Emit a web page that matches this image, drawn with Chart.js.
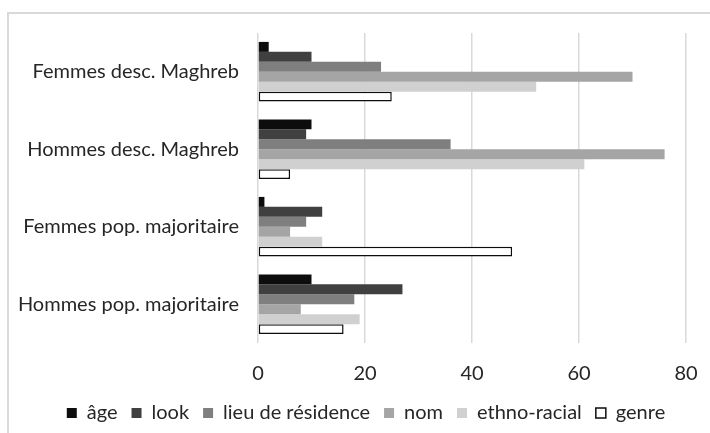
<!DOCTYPE html>
<html>
<head>
<meta charset="utf-8">
<script src="https://cdn.jsdelivr.net/npm/chart.js@4"></script>
<style>
  body { margin: 0; background: #fff; }
  #wrap { position: relative; width: 710px; height: 433px; overflow: hidden; }
  #frame { position: absolute; left: 7px; top: 12px; width: 800px; height: 500px;
           border-top: 2px solid #d9d9d9; border-left: 2px solid #d9d9d9; }
  canvas { position: absolute; left: 0; top: 0; }
</style>
</head>
<body>
<div id="wrap">
  <div id="frame"></div>
  <canvas id="chart" width="710" height="433"></canvas>
</div>
<script>
const categories = ["Femmes desc. Maghreb", "Hommes desc. Maghreb", "Femmes pop. majoritaire", "Hommes pop. majoritaire"];
const seriesNames = ["âge", "look", "lieu de résidence", "nom", "ethno-racial", "genre"];
const age = [2, 10, 1.2, 10];
const look = [10, 9, 12, 27];
const lieu = [23, 36, 9, 18];
const nom = [70, 76, 6, 8];
const ethno = [52, 61, 12, 19];
const genre = [25, 6, 47.5, 16];
const xTicks = [0, 20, 40, 60, 80];

const fills = ["#0d0d0d", "#404040", "#7f7f7f", "#a5a5a5", "#d0d0d0", "#ffffff"];
const values = [age, look, lieu, nom, ethno, genre];

Chart.defaults.font.family = "Lato, 'DejaVu Sans', sans-serif";
Chart.defaults.color = "#262626";

const datasets = values.map((v, i) => ({
    label: seriesNames[i],
    data: v,
    backgroundColor: fills[i],
    borderColor: i === 5 ? "#0d0d0d" : fills[i],
    borderWidth: i === 5 ? 1.5 : 0,
    borderSkipped: false,
    barPercentage: 1,
    categoryPercentage: 0.77
}));

// legend sits a bit right of centre in the reference
const legendShift = {
    id: "legendShift",
    afterLayout(chart) {
        chart.legend.left = 22;
        chart.legend.right = 710;
    }
};

new Chart(document.getElementById("chart"), {
    type: "bar",
    data: { labels: categories, datasets },
    plugins: [legendShift],
    options: {
        indexAxis: "y",
        responsive: false,
        animation: false,
        layout: { padding: { top: 33, right: 24, bottom: 0, left: 0 } },
        scales: {
            x: {
                min: 0, max: 80,
                afterBuildTicks: s => { s.ticks = xTicks.map(v => ({ value: v })); },
                grid: { color: "#d9d9d9", lineWidth: 1.5, drawTicks: false },
                border: { display: false },
                ticks: { padding: 19, font: { size: 20 }, color: "#262626" },
                afterFit: s => { s.height = 46; s.paddingRight = 0; s.paddingLeft = 0; }
            },
            y: {
                grid: { display: false, drawTicks: false },
                border: { display: false },
                ticks: { padding: 19, font: { size: 20 }, color: "#262626" },
                afterFit: s => { s.width = 258; }
            }
        },
        plugins: {
            legend: {
                position: "bottom",
                labels: {
                    boxWidth: 10, boxHeight: 10,
                    padding: 14,
                    font: { size: 20 },
                    color: "#262626"
                }
            },
            tooltip: { enabled: false }
        }
    }
});
</script>
</body>
</html>
